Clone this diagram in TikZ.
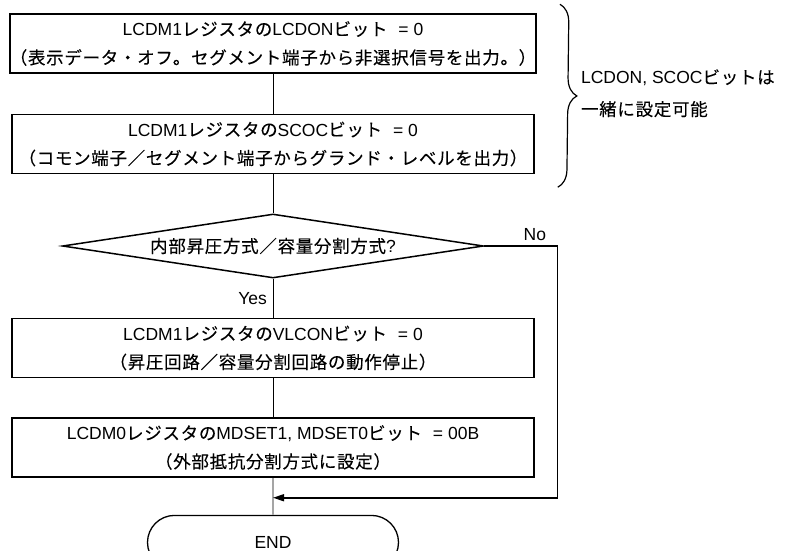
\documentclass[tikz,border=0pt]{standalone}
\usepackage{fontspec}
\setmainfont{Liberation Sans}
\newfontfamily\jp[LetterSpace=4,FakeBold=0.15]{Noto Sans CJK JP}
\usetikzlibrary{positioning,arrows.meta,calc,shapes.geometric,shapes.misc,decorations.pathreplacing}
\definecolor{inkc}{HTML}{000000}
\newcommand{\bxf}{\fontsize{17.5pt}{28.5pt}\selectfont}
\newcommand{\ntf}{\fontsize{17.5pt}{32pt}\selectfont}
\newcommand{\eqgap}{\hspace{11pt}}
\tikzset{
  proc/.style ={draw=inkc,line width=1.5pt,minimum width=522pt,minimum height=59pt,
                inner sep=0pt,align=center,font=\bxf},
  dec/.style  ={diamond,draw=inkc,line width=1.5pt,aspect=6.6,minimum width=421pt,
                minimum height=64pt,inner sep=0pt,font=\bxf},
  term/.style ={rounded rectangle,draw=inkc,line width=1.3pt,minimum width=251pt,
                minimum height=54pt,inner sep=0pt,font=\bxf},
  lbl/.style  ={font=\bxf,inner sep=0pt},
  ln/.style   ={draw=inkc,line width=.8pt},
  arN/.style  ={-{Triangle[length=11pt,width=7pt]},draw=inkc,line width=1.5pt},
  brc/.style  ={draw=inkc,line width=1.2pt,decorate,decoration={brace,amplitude=18pt}},
}

\begin{document}
\begin{tikzpicture}[node distance=39pt]
\useasboundingbox (0pt,0pt) rectangle (793pt,-551pt);

% ---------- display off ---------------------------------------------------
\node[proc] (lcdon) at (273pt,-43.5pt)
  {LCDM1{\jp レジスタの}LCDON{\jp ビット}\eqgap= 0\\
   {\jp （表示データ・オフ。セグメント端子から非選択信号を出力。）}};
\node[proc,below=40pt of lcdon] (scoc)
  {LCDM1{\jp レジスタの}SCOC{\jp ビット}\eqgap= 0\\
   {\jp （コモン端子／セグメント端子からグランド・レベルを出力）}};

% ---------- branch ----------------------------------------------------------
\node[dec,below=of scoc] (mode) {{\jp 内部昇圧方式／容量分割方式}?};
\node[proc,below=of mode] (vlcon)
  {LCDM1{\jp レジスタの}VLCON{\jp ビット}\eqgap= 0\\
   {\jp （昇圧回路／容量分割回路の動作停止）}};
\node[proc,below=of vlcon] (mdset)
  {LCDM0{\jp レジスタの}MDSET1, MDSET0{\jp ビット}\eqgap= 00B\\
   {\jp （外部抵抗分割方式に設定）}};
\node[term,below=37pt of mdset] (fin) {END};

\draw[ln](lcdon)--(scoc); \draw[ln](scoc)--(mode); \draw[ln](mode)--(vlcon);
\draw[ln](vlcon)--(mdset); \draw[ln](mdset)--(fin);
\node[lbl,anchor=north east] (yes) at ($(mode.south)+(-6pt,-14pt)$) {Yes};

% ---------- No path ---------------------------------------------------------
\coordinate (nocorner) at ($(mode.east)+(73pt,0)$);
\coordinate (merge) at ($(mdset.south)+(0,-20pt)$);
\draw[arN](mode.east)--(nocorner)|-(merge);
\node[lbl,anchor=base east] (no) at ($(nocorner)+(-11pt,6pt)$) {No};

% ---------- note ------------------------------------------------------------
\coordinate (brtop) at ($(lcdon.north east)+(23pt,9pt)$);
\coordinate (brbot) at ($(scoc.south east)+(23pt,-13pt)$);
\draw[brc](brtop)--(brbot);
\coordinate (brmid) at ($(brtop)!.5!(brbot)$);
\node[lbl,font=\ntf,align=left,anchor=base west] (note) at ($(brmid)+(22pt,-20pt)$)
  {LCDON, SCOC{\jp ビットは}\\{\jp 一緒に設定可能}};
\end{tikzpicture}
\end{document}
